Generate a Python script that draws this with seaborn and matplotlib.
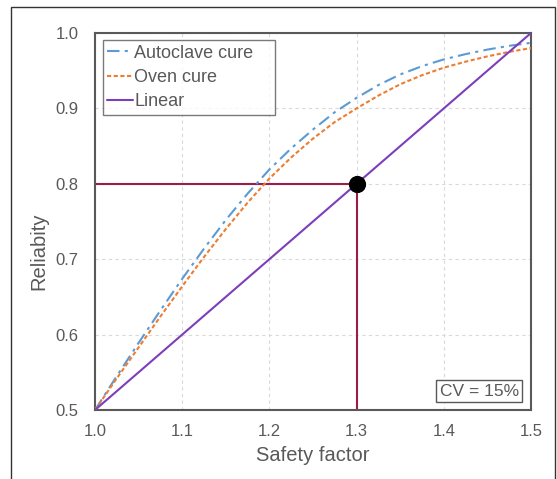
#!/usr/bin/env python
# -*- coding: utf-8 -*-
import pandas as pd
import numpy as np
import matplotlib
matplotlib.use("Agg")
import matplotlib.pyplot as plt
from matplotlib.patches import Rectangle
import seaborn as sns

# data
safety_factor = [1.0, 1.025, 1.05, 1.075, 1.1, 1.125, 1.15, 1.175, 1.2, 1.225, 1.25,
                 1.275, 1.3, 1.325, 1.35, 1.375, 1.4, 1.425, 1.45, 1.475, 1.5]
autoclave = [0.5, 0.545, 0.589, 0.632, 0.674, 0.714, 0.752, 0.787, 0.819, 0.847, 0.872,
             0.895, 0.914, 0.931, 0.945, 0.956, 0.965, 0.972, 0.978, 0.983, 0.987]
oven = [0.5, 0.542, 0.583, 0.624, 0.664, 0.703, 0.740, 0.775, 0.807, 0.835, 0.860,
        0.882, 0.900, 0.917, 0.932, 0.944, 0.954, 0.962, 0.969, 0.975, 0.980]
linear_x = [1.0, 1.5]
linear_y = [0.5, 1.0]
target_sf = 1.3
target_rel = 0.8

x_ticks = [1.0, 1.1, 1.2, 1.3, 1.4, 1.5]
y_ticks = [0.5, 0.6, 0.7, 0.8, 0.9, 1.0]

sns.set_style("white")
plt.rcParams['font.family'] = ['Liberation Sans', 'DejaVu Sans']

grey = "#595959"

fig = plt.figure(figsize=(5.57, 4.79), dpi=100)
ax = fig.add_axes([95 / 557, 1 - 410 / 479, 436 / 557, 377 / 479])

df = pd.DataFrame({'sf': safety_factor, 'Autoclave cure': autoclave, 'Oven cure': oven})

sns.lineplot(data=df, x='sf', y='Autoclave cure', ax=ax, color="#5B9BD5",
             lw=1.5, label='Autoclave cure', zorder=3)
ax.lines[-1].set_dashes([6, 2.5, 1.5, 2.5])
sns.lineplot(data=df, x='sf', y='Oven cure', ax=ax, color="#ED7D31",
             lw=1.5, ls=(0, (2, 1.2)), label='Oven cure', zorder=3)
sns.lineplot(x=linear_x, y=linear_y, ax=ax, color="#7D3EBB", lw=1.5,
             label='Linear', zorder=3)

# reference lines to the marked point
ax.plot([x_ticks[0], target_sf], [target_rel, target_rel], color="#9C1D4B", lw=1.5, zorder=2)
ax.plot([target_sf, target_sf], [y_ticks[0], target_rel], color="#9C1D4B", lw=1.5, zorder=2)
ax.scatter([target_sf], [target_rel], s=130, color='black', zorder=5)

ax.set_xlim(1.0, 1.5)
ax.set_ylim(0.5, 1.0)
ax.set_xticks(x_ticks)
ax.set_yticks(y_ticks)
ax.set_xticklabels(['{:.1f}'.format(t) for t in x_ticks])
ax.set_yticklabels(['{:.1f}'.format(t) for t in y_ticks])
ax.tick_params(axis='both', labelsize=12, labelcolor=grey, length=0)
ax.tick_params(axis='x', pad=10)
ax.tick_params(axis='y', pad=12)
ax.grid(True, color="#D9D9D9", ls=(0, (3, 3)), lw=0.8)

for s in ax.spines.values():
    s.set_color(grey)
    s.set_linewidth(1.5)

ax.set_xlabel('Safety factor', fontsize=14.5, color=grey, labelpad=5)
ax.set_ylabel('Reliabity', fontsize=14.5, color=grey)
ax.yaxis.set_label_coords(-0.106, 0.42)

leg = ax.legend(loc='upper left', bbox_to_anchor=(0.018, 0.5, 0.394, 0.481),
                mode='expand', fontsize=13, frameon=True, fancybox=False,
                handlelength=1.4, handletextpad=0.1, borderpad=0.25,
                labelspacing=0.4, borderaxespad=0.0)
leg.get_frame().set_edgecolor(grey)
leg.get_frame().set_linewidth(1.0)
for t in leg.get_texts():
    t.set_color(grey)

ax.text(0.972, 0.03, 'CV = 15%', transform=ax.transAxes, ha='right', va='bottom',
        fontsize=12.5, color=grey,
        bbox=dict(boxstyle='square,pad=0.2', fc='white', ec=grey, lw=1.0))

# outer frame around the whole figure
fig.patches.append(Rectangle((11 / 557, -0.05), 544 / 557, 1.05 - 7 / 479,
                             transform=fig.transFigure, fill=False,
                             ec='#333333', lw=1.0))

fig.savefig('out.png', dpi=100)
